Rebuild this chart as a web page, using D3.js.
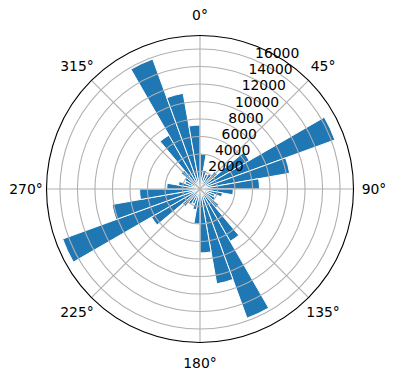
<!DOCTYPE html>
<html><head><meta charset="utf-8">
<script src="https://cdn.jsdelivr.net/npm/d3@7"></script>
<style>body{margin:0;background:#fff}svg{display:block}text{font-family:"DejaVu Sans",sans-serif}</style>
</head><body>
<script>
// bin start angles (degrees), 10° wide bins
const binStarts = d3.range(0, 360, 10);
const counts = [4000, 2200, 1800, 2000, 2600, 6500, 16400, 10400, 6800,
                3800, 2600, 1800, 2000, 2800, 6900, 15700, 11000, 7300,
                4000, 2400, 1800, 2000, 2600, 6400, 16700, 10200, 6900,
                3800, 2500, 1800, 2000, 2800, 7100, 15800, 11100, 7300];
const angleTicks = [0, 45, 90, 135, 180, 225, 270, 315];
const angleLabels = ["0°", "45°", "90°", "135°", "180°", "225°", "270°", "315°"];
const radialTicks = [2000, 4000, 6000, 8000, 10000, 12000, 14000, 16000];
const radialLabels = ["2000", "4000", "6000", "8000", "10000", "12000", "14000", "16000"];

const W = 396, H = 380, cx = 200, cy = 189, R = 153.5;
const binWidth = 10;
const rmax = d3.max(counts) * 1.05;
const r = d3.scaleLinear().domain([0, rmax]).range([0, R]);
const rad = d => d * Math.PI / 180;

const svg = d3.select("body").append("svg").attr("width", W).attr("height", H);
const g = svg.append("g").attr("transform", `translate(${cx},${cy})`);

// bars
const arc = d3.arc().innerRadius(0);
g.append("g").selectAll("path").data(binStarts).join("path")
  .attr("d", (s, i) => arc({outerRadius: r(counts[i]), startAngle: rad(s), endAngle: rad(s + binWidth)}))
  .attr("fill", "#1f77b4").attr("stroke", "#fff").attr("stroke-width", 1);

// grid (above bars)
const grid = g.append("g").attr("fill", "none").attr("stroke", "#b0b0b0").attr("stroke-width", 1.1);
grid.selectAll("circle").data(radialTicks).join("circle").attr("r", d => r(d));
grid.selectAll("line").data(angleTicks).join("line")
  .attr("x1", 0).attr("y1", 0)
  .attr("x2", d => R * Math.sin(rad(d))).attr("y2", d => -R * Math.cos(rad(d)));

// outer spine
g.append("circle").attr("r", R).attr("fill", "none").attr("stroke", "#000").attr("stroke-width", 1.1);

// angular labels
const lr = R + 20.5;
g.append("g").selectAll("text").data(angleTicks).join("text")
  .attr("x", d => lr * Math.sin(rad(d))).attr("y", d => -lr * Math.cos(rad(d)))
  .attr("text-anchor", "middle").attr("dominant-baseline", "central")
  .attr("font-size", 13.9).attr("fill", "#000")
  .text((d, i) => angleLabels[i]);

// radial labels at 22.5°
const la = rad(22.5);
g.append("g").selectAll("text").data(radialTicks).join("text")
  .attr("x", d => r(d) * Math.sin(la) + 1.5).attr("y", d => -r(d) * Math.cos(la) - 1.5)
  .attr("text-anchor", "start")
  .attr("font-size", 13.9).attr("fill", "#000")
  .text((d, i) => radialLabels[i]);
</script>
</body></html>
